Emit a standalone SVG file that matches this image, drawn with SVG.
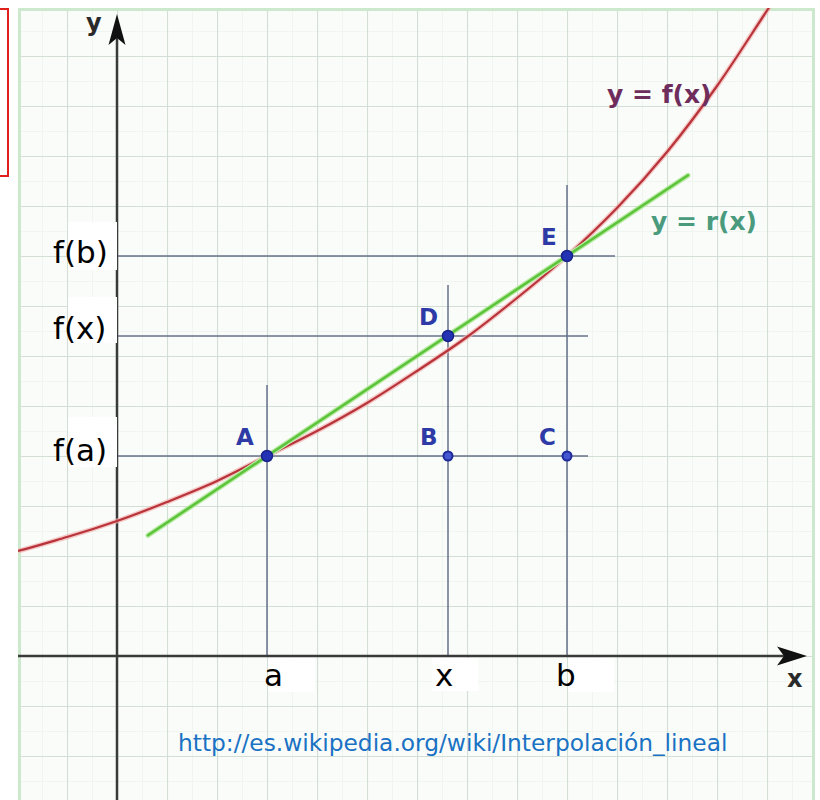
<svg xmlns="http://www.w3.org/2000/svg" width="820" height="800" viewBox="0 0 820 800">
  <style>
    .guide { stroke: #66718c; stroke-width: 1.5; fill: none; }
    .axis { stroke: #3a3a3a; stroke-width: 2.5; fill: none; }
    .lbl { font-family: "DejaVu Sans", Verdana, sans-serif; font-size: 31px; fill: #000; }
    .pt { font-family: "DejaVu Sans", Verdana, sans-serif; font-size: 23px; font-weight: bold; fill: #2e3aa6; }
    .ptbig { fill: #2433b4; stroke: #17238a; stroke-width: 1.5; }
    .ptsm { fill: #4656d0; stroke: #1d2a9a; stroke-width: 2; }
    .box { fill: #ffffff; }
  </style>
  <defs>
    <pattern id="minor" patternUnits="userSpaceOnUse" x="-8" y="-19" width="50" height="50">
      <path d="M0,0 V50 M0,0 H50" stroke="#f0f5f0" stroke-width="2" fill="none"/>
    </pattern>
    <pattern id="major" patternUnits="userSpaceOnUse" x="17" y="6" width="50" height="50">
      <path d="M0,0 V50 M0,0 H50" stroke="#d3dfd4" stroke-width="2.2" fill="none"/>
    </pattern>
    <clipPath id="frame">
      <rect x="18" y="8" width="797" height="795"/>
    </clipPath>
  </defs>

  <rect x="0" y="0" width="820" height="800" fill="#ffffff"/>

  <!-- red frame at top-left -->
  <rect id="red-box" x="-4" y="9" width="12" height="167" fill="none" stroke="#e0201c" stroke-width="2"/>

  <!-- graph paper -->
  <g id="paper">
    <rect x="18" y="8" width="797" height="795" fill="#f9fcf8"/>
    <rect x="18" y="8" width="797" height="795" fill="url(#minor)"/>
    <rect x="18" y="8" width="797" height="795" fill="url(#major)"/>
    <rect x="19.5" y="9.5" width="794" height="792" fill="none" stroke="#cde9cd" stroke-width="3"/>
  </g>

  <!-- guide lines -->
  <g id="connectors">
    <line class="guide" x1="117" y1="256" x2="615" y2="256"/>
    <line class="guide" x1="117" y1="336" x2="588" y2="336"/>
    <line class="guide" x1="117" y1="456" x2="588" y2="456"/>
    <line class="guide" x1="267" y1="385" x2="267" y2="656"/>
    <line class="guide" x1="448" y1="285" x2="448" y2="656"/>
    <line class="guide" x1="567" y1="185" x2="567" y2="656"/>
  </g>

  <!-- axes -->
  <g id="axes">
    <line class="axis" x1="117" y1="30" x2="117" y2="800"/>
    <path d="M117,14 L125.5,45 L117,38 L108.5,45 Z" fill="#111"/>
    <line class="axis" x1="18" y1="656" x2="795" y2="656"/>
    <path d="M807,656 L777,646.5 L784,656 L777,665.5 Z" fill="#111"/>
    <text x="86" y="31" font-family="DejaVu Sans, Verdana, sans-serif" font-size="24" font-weight="bold" fill="#2a2a2a">y</text>
    <text x="787" y="687" font-family="DejaVu Sans, Verdana, sans-serif" font-size="24" font-weight="bold" fill="#2a2a2a">x</text>
  </g>

  <!-- curves -->
  <g id="curve-f" clip-path="url(#frame)">
    <path d="M18,551 C34.3,546.7 50.5,541.8 67,537 C83.5,532.2 100.3,526.8 117,521 C133.7,515.2 150.3,508.7 167,502 C183.7,495.3 200.3,488.7 217,481 C233.7,473.3 250.3,464.3 267,456 C283.7,447.7 300.3,439.8 317,431 C333.7,422.2 350.3,413 367,403 C383.7,393 400.3,382 417,371 C433.7,360 450.3,349.2 467,337 C483.7,324.8 500.3,311.5 517,298 C533.7,284.5 550.3,271 567,256 C583.7,241 600.3,225.3 617,208 C633.7,190.7 650.3,172.3 667,152 C683.7,131.7 699.8,110.3 717,86 C734.2,61.7 752.3,32.7 770,6" fill="none" stroke="#f3b3b3" stroke-width="5" stroke-opacity="0.7"/>
    <path d="M18,551 C34.3,546.7 50.5,541.8 67,537 C83.5,532.2 100.3,526.8 117,521 C133.7,515.2 150.3,508.7 167,502 C183.7,495.3 200.3,488.7 217,481 C233.7,473.3 250.3,464.3 267,456 C283.7,447.7 300.3,439.8 317,431 C333.7,422.2 350.3,413 367,403 C383.7,393 400.3,382 417,371 C433.7,360 450.3,349.2 467,337 C483.7,324.8 500.3,311.5 517,298 C533.7,284.5 550.3,271 567,256 C583.7,241 600.3,225.3 617,208 C633.7,190.7 650.3,172.3 667,152 C683.7,131.7 699.8,110.3 717,86 C734.2,61.7 752.3,32.7 770,6" fill="none" stroke="#b8343a" stroke-width="2.2"/>
  </g>
  <g id="line-r">
    <line x1="148" y1="535.3" x2="688" y2="175.3" stroke="#b9eaa4" stroke-width="5" stroke-linecap="round"/>
    <line x1="148" y1="535.3" x2="688" y2="175.3" stroke="#5cc43a" stroke-width="2.5" stroke-linecap="round"/>
  </g>

  <!-- curve labels -->
  <text id="label-f" x="607" y="103" font-family="DejaVu Sans, Verdana, sans-serif" font-size="25" font-weight="bold" fill="#6e2d5c">y = f(x)</text>
  <text id="label-r" x="651" y="230" font-family="DejaVu Sans, Verdana, sans-serif" font-size="25" font-weight="bold" fill="#4a9a7e">y = r(x)</text>

  <!-- points -->
  <g id="point-A">
    <circle class="ptbig" cx="267" cy="456" r="5.5"/>
    <text class="pt" x="236" y="445">A</text>
  </g>
  <g id="point-B">
    <circle class="ptsm" cx="448" cy="456" r="4.5"/>
    <text class="pt" x="420" y="445">B</text>
  </g>
  <g id="point-C">
    <circle class="ptsm" cx="567" cy="456" r="4.5"/>
    <text class="pt" x="539" y="445">C</text>
  </g>
  <g id="point-D">
    <circle class="ptbig" cx="448" cy="336" r="5.5"/>
    <text class="pt" x="419" y="325">D</text>
  </g>
  <g id="point-E">
    <circle class="ptbig" cx="567" cy="256" r="5.5"/>
    <text class="pt" x="541" y="245">E</text>
  </g>

  <!-- axis value labels -->
  <g id="tick-fb">
    <rect class="box" x="68" y="222" width="49" height="48"/>
    <text class="lbl" x="53" y="263">f(b)</text>
  </g>
  <g id="tick-fx">
    <rect class="box" x="68" y="297" width="49" height="46"/>
    <text class="lbl" x="53" y="339">f(x)</text>
  </g>
  <g id="tick-fa">
    <rect class="box" x="68" y="417" width="49" height="50"/>
    <text class="lbl" x="53" y="461">f(a)</text>
  </g>
  <g id="tick-a">
    <rect class="box" x="268" y="658" width="47" height="34"/>
    <text class="lbl" x="264" y="686">a</text>
  </g>
  <g id="tick-x">
    <rect class="box" x="432" y="658" width="46" height="33"/>
    <text class="lbl" x="435" y="686">x</text>
  </g>
  <g id="tick-b">
    <rect class="box" x="568" y="658" width="46" height="34"/>
    <text class="lbl" x="556" y="686">b</text>
  </g>

  <!-- source -->
  <text id="source" x="178" y="751" font-family="DejaVu Sans, Verdana, sans-serif" font-size="23.3" fill="#1a72c4">http://es.wikipedia.org/wiki/Interpolación_lineal</text>
</svg>
